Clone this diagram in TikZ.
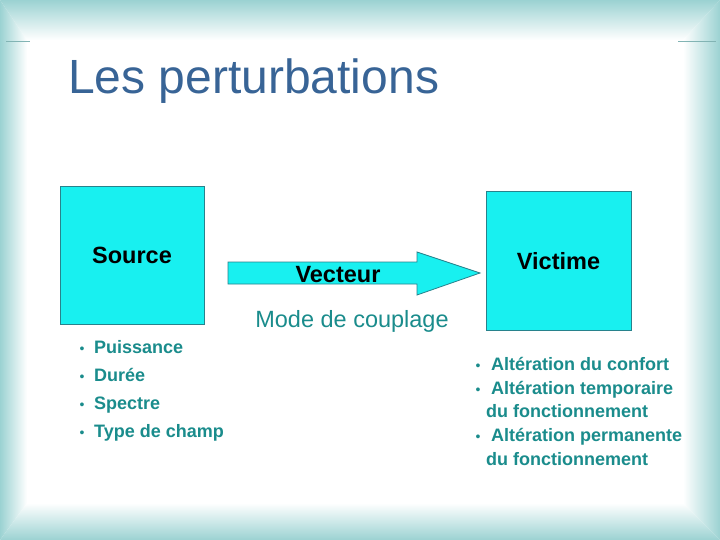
\documentclass[tikz,border=0pt]{standalone}
\usepackage{fontspec}
\setmainfont{Liberation Sans}
\definecolor{frame}{RGB}{155,210,210}
\definecolor{frameline}{RGB}{130,180,180}
\definecolor{boxfill}{RGB}{24,240,240}
\definecolor{boxline}{RGB}{40,130,140}
\definecolor{teal1}{RGB}{26,140,140}
\definecolor{titleblue}{RGB}{56,100,150}
\tikzset{
  blockbox/.style={draw=boxline, line width=0.8pt, fill=boxfill, inner sep=0pt},
  boxlabel/.style={font=\fontsize{23.5}{27}\selectfont\bfseries, text=black},
  bullettext/.style={anchor=base west, inner sep=0pt, font=\fontsize{18}{21}\selectfont\bfseries, text=teal1},
  bulletdot/.style={anchor=base, inner sep=0pt, font=\fontsize{14}{16}\selectfont, text=teal1}
}
\begin{document}
\begin{tikzpicture}[x=1pt,y=-1pt]
\useasboundingbox (0,0) rectangle (720,540);
\fill[white] (0,0) rectangle (720,540);
% bevelled frame
\shade[top color=frame, bottom color=white] (0,0) -- (720,0) -- (683,40) -- (27,40) -- cycle;
\shade[left color=frame, right color=white] (0,0) -- (27,40) -- (27,503) -- (0,540) -- cycle;
\shade[left color=white, right color=frame] (720,0) -- (683,40) -- (683,503) -- (720,540) -- cycle;
\shade[top color=white, bottom color=frame] (0,540) -- (27,503) -- (683,503) -- (720,540) -- cycle;
\draw[frameline, line width=1pt] (6,42) -- (30,42);
\draw[frameline, line width=1pt] (678,42) -- (716,42);
% title
\node[anchor=base west, inner sep=0pt, text=titleblue, font=\fontsize{48}{56}\selectfont] (title) at (68,94) {Les perturbations};
% boxes
\node[blockbox, minimum width=144pt, minimum height=138pt] (source) at (132,255) {};
\node[boxlabel] (sourcelbl) at (source.center) {Source};
\node[blockbox, minimum width=145pt, minimum height=139pt] (victime) at (558.5,260.5) {};
\node[boxlabel] (victimelbl) at ([yshift=-1pt]victime.center) {Victime};
% arrow
\draw[blockbox] (228,262) -- (417,262) -- (417,252) -- (480,273) -- (417,295) -- (417,284) -- (228,284) -- cycle;
\node[boxlabel, anchor=base, inner sep=0pt] (vecteur) at (338,282) {Vecteur};
\node[anchor=base, inner sep=0pt, text=teal1, font=\fontsize{23.5}{27}\selectfont] (mode) at (352,327) {Mode de couplage};
% left bullets
\node[bulletdot] (b1) at (82,353) {\textbullet};
\node[bullettext] (t1) at (94,353) {Puissance};
\node[bulletdot] (b2) at (82,381) {\textbullet};
\node[bullettext] (t2) at (94,381) {Durée};
\node[bulletdot] (b3) at (82,409) {\textbullet};
\node[bullettext] (t3) at (94,409) {Spectre};
\node[bulletdot] (b4) at (82,437) {\textbullet};
\node[bullettext] (t4) at (94,437) {Type de champ};
% right bullets
\node[bulletdot] (r1) at (478,370) {\textbullet};
\node[bullettext] (s1) at (491,370) {Altération du confort};
\node[bulletdot] (r2) at (478,394) {\textbullet};
\node[bullettext] (s2) at (491,394) {Altération temporaire};
\node[bullettext] (s3) at (486,417) {du fonctionnement};
\node[bulletdot] (r3) at (478,441) {\textbullet};
\node[bullettext] (s4) at (491,441) {Altération permanente};
\node[bullettext] (s5) at (486,465) {du fonctionnement};
\end{tikzpicture}
\end{document}
